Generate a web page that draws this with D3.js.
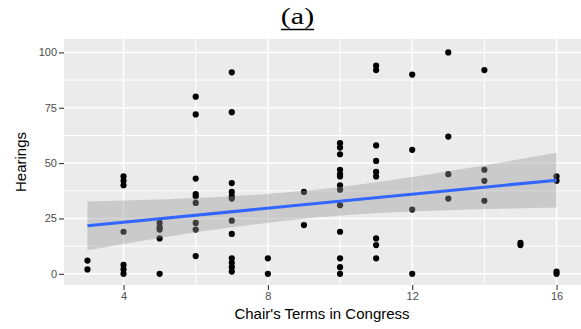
<!DOCTYPE html>
<html>
<head>
<meta charset="utf-8">
<script src="https://cdn.jsdelivr.net/npm/d3@7"></script>
<style>
  body { margin: 0; background: #fff; }
  svg { display: block; }
</style>
</head>
<body>
<div id="chart"></div>
<script>
// CHART DATA
const terms = [3, 4, 5, 6, 7, 8, 9, 10, 11, 12, 13, 14, 15, 16];
const hearingsByTerm = [
  [6, 2],
  [44, 42, 40, 19, 4, 2, 0],
  [23, 21, 20, 16, 0],
  [80, 72, 43, 36, 35, 32, 23, 20, 8],
  [91, 73, 41, 37, 35, 34, 24, 18, 7, 5, 3, 1],
  [7, 0],
  [37, 22],
  [59, 57, 54, 47, 45, 44, 40, 38, 31, 19, 7, 3, 0],
  [94, 92, 58, 51, 46, 44, 16, 13, 7],
  [90, 56, 29, 0],
  [100, 62, 45, 34],
  [92, 47, 42, 33],
  [14, 13],
  [44, 42, 1, 0]
];
// linear smoother and its grey band
const fitX = [3, 16];
const fitY = [21.7, 42.3];
const bandX = [3, 5, 7, 9, 11, 13, 16];
const bandLo = [10.7, 16.2, 21.0, 24.9, 27.4, 28.7, 29.9];
const bandHi = [32.7, 33.6, 35.0, 37.5, 41.4, 46.3, 54.7];

const xTicks = [4, 8, 12, 16];
const yTicks = [0, 25, 50, 75, 100];
const xMinor = [2, 6, 10, 14];
const yMinor = [12.5, 37.5, 62.5, 87.5];

// PLOT DEFAULTS
const WIDTH = 581;
const HEIGHT = 329;
const PANEL = { left: 64, right: 581, top: 39, bottom: 285 };
const SANS = 'Liberation Sans, Arial, sans-serif';

const points = [];
terms.forEach((t, i) => hearingsByTerm[i].forEach(h => points.push({ x: t, y: h })));

const svg = d3.select('#chart')
  .append('svg')
  .attr('width', WIDTH)
  .attr('height', HEIGHT);

// ggplot-like expanded scales
const xScale = d3.scaleLinear().domain([2.35, 16.65]).range([PANEL.left, 580]);
const yScale = d3.scaleLinear().domain([-5.05, 106.05]).range([PANEL.bottom, PANEL.top]);

// panel background
svg.append('rect')
  .attr('x', PANEL.left).attr('y', PANEL.top)
  .attr('width', PANEL.right - PANEL.left)
  .attr('height', PANEL.bottom - PANEL.top)
  .attr('fill', '#ebebeb');

const grid = svg.append('g');
grid.selectAll('.xmin').data(xMinor.filter(d => xScale(d) > PANEL.left)).join('line')
  .attr('x1', d => xScale(d)).attr('x2', d => xScale(d))
  .attr('y1', PANEL.top).attr('y2', PANEL.bottom)
  .attr('stroke', '#fff').attr('stroke-width', 1);
grid.selectAll('.ymin').data(yMinor).join('line')
  .attr('x1', PANEL.left).attr('x2', PANEL.right)
  .attr('y1', d => yScale(d)).attr('y2', d => yScale(d))
  .attr('stroke', '#fff').attr('stroke-width', 1);
grid.selectAll('.xmaj').data(xTicks).join('line')
  .attr('x1', d => xScale(d)).attr('x2', d => xScale(d))
  .attr('y1', PANEL.top).attr('y2', PANEL.bottom)
  .attr('stroke', '#fff').attr('stroke-width', 1.5);
grid.selectAll('.ymaj').data(yTicks).join('line')
  .attr('x1', PANEL.left).attr('x2', PANEL.right)
  .attr('y1', d => yScale(d)).attr('y2', d => yScale(d))
  .attr('stroke', '#fff').attr('stroke-width', 1.5);

// points
svg.append('g').selectAll('circle')
  .data(points)
  .join('circle')
  .attr('cx', d => xScale(d.x))
  .attr('cy', d => yScale(d.y))
  .attr('r', 3.1)
  .attr('fill', '#000');

// confidence band (drawn over the points, like geom_smooth)
const band = bandX.map((x, i) => ({ x, lo: bandLo[i], hi: bandHi[i] }));
svg.append('path')
  .datum(band)
  .attr('d', d3.area().curve(d3.curveMonotoneX)
    .x(d => xScale(d.x)).y0(d => yScale(d.lo)).y1(d => yScale(d.hi)))
  .attr('fill', '#999999')
  .attr('fill-opacity', 0.4);

svg.append('path')
  .datum(fitX.map((x, i) => ({ x, y: fitY[i] })))
  .attr('d', d3.line().x(d => xScale(d.x)).y(d => yScale(d.y)))
  .attr('fill', 'none')
  .attr('stroke', '#3366ff')
  .attr('stroke-width', 3);

// axes
const xAxis = svg.append('g')
  .attr('transform', `translate(0, ${PANEL.bottom})`)
  .call(d3.axisBottom(xScale).tickValues(xTicks).tickSize(5).tickPadding(2).tickFormat(d3.format('d')));
const yAxis = svg.append('g')
  .attr('transform', `translate(${PANEL.left}, 0)`)
  .call(d3.axisLeft(yScale).tickValues(yTicks).tickSize(5).tickPadding(2).tickFormat(d3.format('d')));
[xAxis, yAxis].forEach(ax => {
  ax.select('.domain').remove();
  ax.selectAll('line').attr('stroke', '#333').attr('stroke-width', 1.1);
  ax.selectAll('text')
    .attr('fill', '#4d4d4d')
    .style('font-family', SANS)
    .style('font-size', '11px');
});

// axis titles
svg.append('text')
  .attr('x', (PANEL.left + 580) / 2)
  .attr('y', 318.5)
  .attr('text-anchor', 'middle')
  .style('font-family', SANS)
  .style('font-size', '15px')
  .text("Chair's Terms in Congress");

svg.append('text')
  .attr('transform', `translate(26, ${(PANEL.top + PANEL.bottom) / 2}) rotate(-90)`)
  .attr('text-anchor', 'middle')
  .style('font-family', SANS)
  .style('font-size', '15px')
  .text('Hearings');

// panel label, underlined
const label = svg.append('text')
  .attr('transform', 'translate(297.5, 23.5) scale(1.25, 1)')
  .attr('text-anchor', 'middle')
  .style('font-family', 'Liberation Serif, Times New Roman, serif')
  .style('font-size', '24px')
  .text('(a)');
const lb = label.node().getBBox();
svg.append('line')
  .attr('x1', 297.5 + lb.x * 1.25).attr('x2', 297.5 + (lb.x + lb.width) * 1.25)
  .attr('y1', 29.5).attr('y2', 29.5)
  .attr('stroke', '#000').attr('stroke-width', 1.4);
</script>
</body>
</html>
